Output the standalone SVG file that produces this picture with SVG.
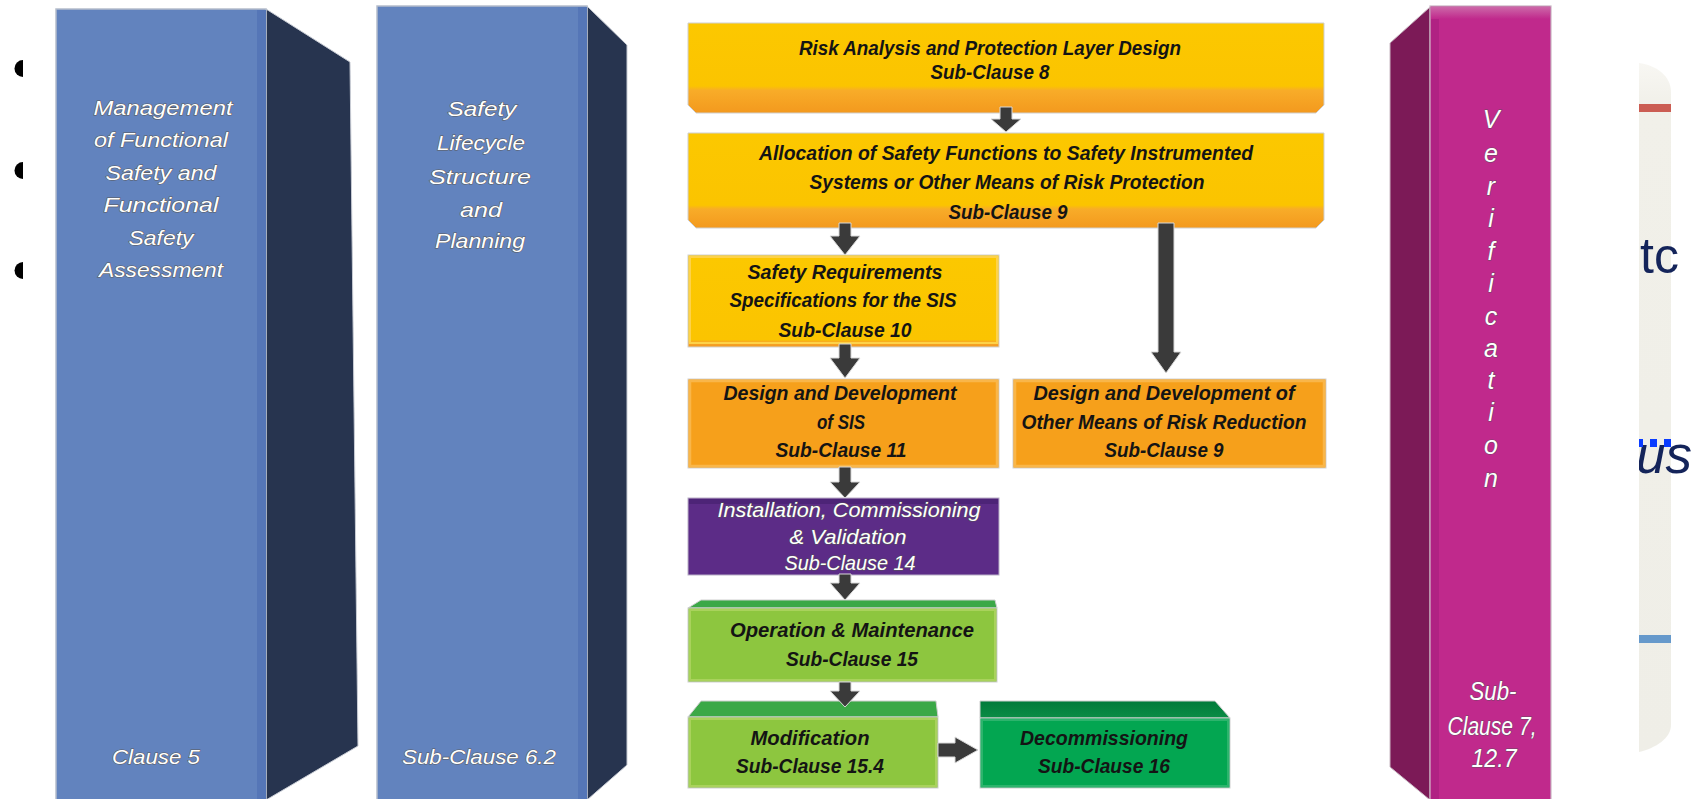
<svg xmlns="http://www.w3.org/2000/svg" width="1701" height="799" viewBox="0 0 1701 799">
<defs>
<linearGradient id="gY1" x1="0" y1="0" x2="0" y2="1">
<stop offset="0" stop-color="#FCC800"/><stop offset="0.70" stop-color="#FBC400"/><stop offset="0.75" stop-color="#F8AC28"/><stop offset="1" stop-color="#F3991E"/>
</linearGradient>
<linearGradient id="gY2" x1="0" y1="0" x2="0" y2="1">
<stop offset="0" stop-color="#FCC800"/><stop offset="0.76" stop-color="#FBC400"/><stop offset="0.80" stop-color="#F8AC28"/><stop offset="1" stop-color="#F3991E"/>
</linearGradient>
<linearGradient id="gY3" x1="0" y1="0" x2="0" y2="1">
<stop offset="0" stop-color="#FCC800"/><stop offset="0.92" stop-color="#FBC400"/><stop offset="0.95" stop-color="#F7A52A"/><stop offset="1" stop-color="#F39A1E"/>
</linearGradient>
<linearGradient id="gMag" x1="0" y1="0" x2="0" y2="1">
<stop offset="0" stop-color="#CC67A8"/><stop offset="1" stop-color="#C0298C"/>
</linearGradient>
<linearGradient id="gPanel" x1="0" y1="0" x2="0" y2="1">
<stop offset="0" stop-color="#F8F7F3"/><stop offset="0.06" stop-color="#F1F0E9"/><stop offset="1" stop-color="#EFEEE7"/>
</linearGradient>
<linearGradient id="gDec" x1="0" y1="0" x2="0" y2="1">
<stop offset="0" stop-color="#017A3A"/><stop offset="1" stop-color="#0B8C45"/>
</linearGradient>
<clipPath id="panelClip"><rect x="1639" y="0" width="62" height="799"/></clipPath>
</defs>
<style>
.pt{font-family:"Liberation Sans",Arial,sans-serif;font-style:italic;font-size:21px;fill:#ffffff;stroke:#5a5a5a;stroke-width:1.1px;paint-order:stroke;text-anchor:middle;}
.vt{font-family:"Liberation Sans",Arial,sans-serif;font-style:italic;font-size:25px;fill:#ffffff;stroke:#6a4a60;stroke-width:1px;paint-order:stroke;text-anchor:middle;}
.ft{font-family:"Liberation Sans",Arial,sans-serif;font-style:italic;font-weight:bold;font-size:21px;fill:#141414;text-anchor:middle;}
.wt{font-family:"Liberation Sans",Arial,sans-serif;font-style:italic;font-size:21px;fill:#ffffff;stroke:#555555;stroke-width:1px;paint-order:stroke;text-anchor:middle;}
.arr{fill:#3A3A3A;stroke:#D8D8D8;stroke-width:1px;}
.pfront{fill:#6283BE;stroke:#B5BDCB;stroke-width:1.5px;}
.pside{fill:#27344F;stroke:#C9CDD5;stroke-width:1px;}
.bullet{fill:#000000;}
</style>

<g id="bullets">
<path class="bullet" d="M23,60 A8.5,8.5 0 0 0 23,77 Z"/>
<path class="bullet" d="M23,162 A8.5,8.5 0 0 0 23,179 Z"/>
<path class="bullet" d="M23,262 A8.5,8.5 0 0 0 23,279 Z"/>
</g>

<g id="pillar-clause5">
<polygon class="pside" points="266,9 350,62 358,746 266,800"/>
<rect class="pfront" x="56" y="9" width="210" height="792"/>
<rect x="257" y="10" width="9" height="790" fill="#5576B7"/>
<text class="pt" x="163" y="115" textLength="139" lengthAdjust="spacingAndGlyphs">Management</text>
<text class="pt" x="161" y="147" textLength="134" lengthAdjust="spacingAndGlyphs">of Functional</text>
<text class="pt" x="161" y="180" textLength="111" lengthAdjust="spacingAndGlyphs">Safety and</text>
<text class="pt" x="161" y="212" textLength="115" lengthAdjust="spacingAndGlyphs">Functional</text>
<text class="pt" x="161" y="245" textLength="65" lengthAdjust="spacingAndGlyphs">Safety</text>
<text class="pt" x="161" y="277" textLength="124" lengthAdjust="spacingAndGlyphs">Assessment</text>
<text class="pt" x="156" y="764" textLength="88" lengthAdjust="spacingAndGlyphs">Clause 5</text>
</g>

<g id="pillar-subclause62">
<polygon class="pside" points="587,6 627,45 627,765 587,800"/>
<rect class="pfront" x="377" y="6" width="210" height="795"/>
<rect x="578" y="7" width="9" height="793" fill="#5576B7"/>
<text class="pt" x="482" y="116" textLength="69" lengthAdjust="spacingAndGlyphs">Safety</text>
<text class="pt" x="481" y="150" textLength="88" lengthAdjust="spacingAndGlyphs">Lifecycle</text>
<text class="pt" x="480" y="184" textLength="102" lengthAdjust="spacingAndGlyphs">Structure</text>
<text class="pt" x="481" y="217" textLength="42" lengthAdjust="spacingAndGlyphs">and</text>
<text class="pt" x="480" y="248" textLength="90" lengthAdjust="spacingAndGlyphs">Planning</text>
<text class="pt" x="479" y="764" textLength="154" lengthAdjust="spacingAndGlyphs">Sub-Clause 6.2</text>
</g>

<g id="box-risk-analysis">
<path d="M688,23 H1324 V105 L1316,113 H696 L688,105 Z" fill="url(#gY1)" stroke="#CFCFCF" stroke-width="1"/>
<text class="ft" x="990" y="55" textLength="382" lengthAdjust="spacingAndGlyphs">Risk Analysis and Protection Layer Design</text>
<text class="ft" x="990" y="79" textLength="119" lengthAdjust="spacingAndGlyphs">Sub-Clause 8</text>
</g>

<g id="box-allocation">
<path d="M688,133 H1324 V220 L1316,228 H696 L688,220 Z" fill="url(#gY2)" stroke="#CFCFCF" stroke-width="1"/>
<text class="ft" x="1006" y="160" textLength="494" lengthAdjust="spacingAndGlyphs">Allocation of Safety Functions to Safety Instrumented</text>
<text class="ft" x="1007" y="189" textLength="395" lengthAdjust="spacingAndGlyphs">Systems or Other Means of Risk Protection</text>
<text class="ft" x="1008" y="219" textLength="119" lengthAdjust="spacingAndGlyphs">Sub-Clause 9</text>
</g>

<g id="box-srs">
<rect x="688" y="255" width="311" height="92" fill="url(#gY3)" stroke="#D2D2D2" stroke-width="1"/>
<rect x="690" y="257" width="307" height="86" fill="none" stroke="#FDD24A" stroke-width="2"/>
<text class="ft" x="845" y="279" textLength="195" lengthAdjust="spacingAndGlyphs">Safety Requirements</text>
<text class="ft" x="843" y="307" textLength="227" lengthAdjust="spacingAndGlyphs">Specifications for the SIS</text>
<text class="ft" x="845" y="337" textLength="133" lengthAdjust="spacingAndGlyphs">Sub-Clause 10</text>
</g>

<g id="box-design-sis">
<rect x="688" y="379" width="311" height="89" fill="#F6A01B" stroke="#D2D2D2" stroke-width="1"/>
<rect x="690" y="381" width="307" height="85" fill="none" stroke="#F9B649" stroke-width="2.5"/>
<text class="ft" x="840" y="400" textLength="233" lengthAdjust="spacingAndGlyphs">Design and Development</text>
<text class="ft" x="841" y="429" textLength="48" lengthAdjust="spacingAndGlyphs">of SIS</text>
<text class="ft" x="841" y="457" textLength="131" lengthAdjust="spacingAndGlyphs">Sub-Clause 11</text>
</g>

<g id="box-design-other">
<rect x="1013" y="379" width="313" height="89" fill="#F6A01B" stroke="#D2D2D2" stroke-width="1"/>
<rect x="1015" y="381" width="309" height="85" fill="none" stroke="#F9B649" stroke-width="2.5"/>
<text class="ft" x="1164" y="400" textLength="261" lengthAdjust="spacingAndGlyphs">Design and Development of</text>
<text class="ft" x="1164" y="429" textLength="285" lengthAdjust="spacingAndGlyphs">Other Means of Risk Reduction</text>
<text class="ft" x="1164" y="457" textLength="119" lengthAdjust="spacingAndGlyphs">Sub-Clause 9</text>
</g>

<g id="box-installation">
<rect x="688" y="498" width="311" height="77" fill="#5C2C87" stroke="#B9B0C6" stroke-width="1"/>
<rect x="689" y="499" width="309" height="5" fill="#4D2477"/>
<text class="wt" x="849" y="517" textLength="263" lengthAdjust="spacingAndGlyphs">Installation, Commissioning</text>
<text class="wt" x="848" y="544" textLength="117" lengthAdjust="spacingAndGlyphs">&amp; Validation</text>
<text class="wt" x="850" y="570" textLength="131" lengthAdjust="spacingAndGlyphs">Sub-Clause 14</text>
</g>

<g id="box-operation">
<path d="M688,608 L701,600 H995 L997,608 Z" fill="#3BA847" stroke="#CFCFCF" stroke-width="1"/>
<rect x="688" y="608" width="309" height="74" fill="#8DC63F" stroke="#CFCFCF" stroke-width="1"/>
<rect x="690" y="610" width="305" height="70" fill="none" stroke="#A9D25C" stroke-width="2"/>
<text class="ft" x="852" y="637" textLength="244" lengthAdjust="spacingAndGlyphs">Operation &amp; Maintenance</text>
<text class="ft" x="852" y="666" textLength="132" lengthAdjust="spacingAndGlyphs">Sub-Clause 15</text>
</g>

<g id="box-modification">
<path d="M688,717 L701,701 H936 L938,717 Z" fill="#3BA847" stroke="#CFCFCF" stroke-width="1"/>
<rect x="688" y="717" width="250" height="71" fill="#8DC63F" stroke="#CFCFCF" stroke-width="1"/>
<rect x="690" y="719" width="246" height="67" fill="none" stroke="#A9D25C" stroke-width="2"/>
<text class="ft" x="810" y="745" textLength="119" lengthAdjust="spacingAndGlyphs">Modification</text>
<text class="ft" x="810" y="773" textLength="148" lengthAdjust="spacingAndGlyphs">Sub-Clause 15.4</text>
</g>

<g id="box-decommissioning">
<path d="M980,701 H1215 L1230,718 H980 Z" fill="url(#gDec)" stroke="#CFCFCF" stroke-width="1"/>
<rect x="980" y="718" width="250" height="70" fill="#03A651" stroke="#CFCFCF" stroke-width="1"/>
<rect x="982" y="720" width="246" height="66" fill="none" stroke="#2CB46C" stroke-width="2"/>
<text class="ft" x="1104" y="745" textLength="168" lengthAdjust="spacingAndGlyphs">Decommissioning</text>
<text class="ft" x="1104" y="773" textLength="132" lengthAdjust="spacingAndGlyphs">Sub-Clause 16</text>
</g>

<g id="pillar-verification">
<polygon points="1390,43 1430,7 1430,800 1390,767" fill="#7C1A57" stroke="#C9B8C3" stroke-width="1"/>
<rect x="1430" y="6" width="121" height="795" fill="#C0298C" stroke="#C8B4C2" stroke-width="1.2"/>
<rect x="1431" y="7" width="119" height="12" fill="url(#gMag)"/>
<rect x="1431" y="19" width="8" height="780" fill="#B02283"/>
<text class="vt">
<tspan x="1491" y="128">V</tspan><tspan x="1491" y="162">e</tspan><tspan x="1491" y="195">r</tspan><tspan x="1491" y="227">i</tspan><tspan x="1491" y="260">f</tspan><tspan x="1491" y="292">i</tspan><tspan x="1491" y="325">c</tspan><tspan x="1491" y="357">a</tspan><tspan x="1491" y="389">t</tspan><tspan x="1491" y="421">i</tspan><tspan x="1491" y="454">o</tspan><tspan x="1491" y="487">n</tspan>
</text>
<text class="vt" x="1493" y="700" textLength="47" lengthAdjust="spacingAndGlyphs">Sub-</text>
<text class="vt" x="1492" y="735" textLength="89" lengthAdjust="spacingAndGlyphs">Clause 7,</text>
<text class="vt" x="1494" y="767" textLength="45" lengthAdjust="spacingAndGlyphs">12.7</text>
</g>

<g id="side-panel">
<path d="M1639,63 C1656,65 1671,76 1671,92 L1671,725 C1671,738 1656,748 1639,752 Z" fill="url(#gPanel)"/>
<rect x="1639" y="104" width="32" height="8" fill="#CB5D53"/>
<rect x="1639" y="635" width="32" height="8" fill="#6699CB"/>
<g clip-path="url(#panelClip)">
<text x="1640" y="273" font-family="Liberation Sans, Arial, sans-serif" font-size="50" fill="#14245A">tc</text>
<text x="1636" y="473" font-family="Liberation Sans, Arial, sans-serif" font-size="53" font-style="italic" fill="#14245A">us</text>
</g>
<rect x="1639" y="439" width="4" height="8" fill="#0A3CFF"/>
<rect x="1650" y="439" width="7" height="8" fill="#0A3CFF"/>
<rect x="1664" y="439" width="7" height="8" fill="#0A3CFF"/>
</g>

<g id="connectors">
<path class="arr" d="M1000,107 H1012 V119 H1021 L1006,132 L991,119 H1000 Z"/>
<path class="arr" d="M839,223 H851 V236 H860 L845,255 L830,236 H839 Z"/>
<path class="arr" d="M839,344 H851 V358 H860 L845,378 L830,358 H839 Z"/>
<path class="arr" d="M1158,223 H1174 V352 H1181 L1166,373 L1151,352 H1158 Z"/>
<path class="arr" d="M839,467 H851 V482 H860 L845,498 L830,482 H839 Z"/>
<path class="arr" d="M839,574 H851 V583 H860 L845,600 L830,583 H839 Z"/>
<path class="arr" d="M839,682 H851 V691 H860 L845,707 L830,691 H839 Z"/>
<path class="arr" d="M938,743 H955 V737 L978,750 L955,763 V757 H938 Z"/>
</g>
</svg>
